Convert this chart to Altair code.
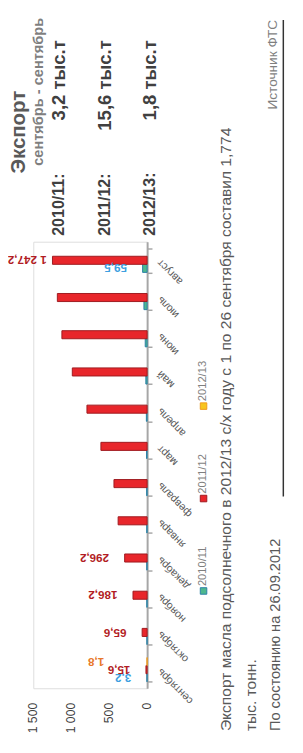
import altair as alt
import pandas as pd

months = ["сентябрь", "октябрь", "ноябрь", "декабрь", "январь", "февраль",
          "март", "апрель", "май", "июнь", "июль", "август"]
seasons = ["2010/11", "2011/12", "2012/13"]
v_2010_11 = [3.2, 3, 4, 5, 5, 6, 8, 10, 17, 25, 42, 59.5]
v_2011_12 = [15.6, 65.6, 186.2, 296.2, 382, 437, 609, 793, 986, 1123, 1183, 1247.2]
v_2012_13 = [1.8, None, None, None, None, None, None, None, None, None, None, None]
lab_2010_11 = ["3,2", "", "", "", "", "", "", "", "", "", "", "59,5"]
lab_2011_12 = ["15,6", "65,6", "186,2", "296,2", "", "", "", "", "", "", "", "1 247,2"]
lab_2012_13 = ["1,8", "", "", "", "", "", "", "", "", "", "", ""]
ticks = [0, 500, 1000, 1500]
tick_labels = ["0", "500", "1 000", "1 500"]

rows = []
for s, vals, labs in zip(seasons, [v_2010_11, v_2011_12, v_2012_13],
                         [lab_2010_11, lab_2011_12, lab_2012_13]):
    for m, v, l in zip(months, vals, labs):
        if v is not None:
            rows.append({"month": m, "season": s, "value": v, "label": l})
df = pd.DataFrame(rows)
tick_df = pd.DataFrame({"value": ticks, "lab": tick_labels})

fills = ["#4db88f", "#e8262b", "#f7c51e"]
strokes = ["#2b7fa8", "#9e1a1f", "#f09a1c"]
label_colors = ["#3d9fe0", "#b21c24", "#e8782a"]

FONT = "Liberation Sans"

y_enc = alt.Y("month:N", sort=months[::-1], title="",
              scale=alt.Scale(paddingInner=0.35, paddingOuter=0.175),
              axis=alt.Axis(orient="right", tickBand="extent", labelAngle=225,
                            labelAlign="right", labelBaseline="middle",
                            labelFontSize=11, labelColor="#595959", labelPadding=7,
                            labelFont=FONT, labelOverlap=False, domainColor="#a6a6a6",
                            domainWidth=2, tickColor="#a6a6a6", tickSize=5, tickWidth=1.5,
                            grid=False))
yoff = alt.YOffset("season:N", sort=seasons[::-1], scale=alt.Scale(paddingInner=0))
x_enc = alt.X("value:Q", title="",
              scale=alt.Scale(domain=[0, 1500], reverse=True, nice=False),
              axis=alt.Axis(values=ticks, labels=False, domainColor="#a6a6a6",
                            domainWidth=1.5, tickColor="#a6a6a6", tickSize=5, tickWidth=1.5,
                            grid=True, gridDash=[8, 5], gridColor="#c8c8c8", gridWidth=1.5))

base = alt.Chart(df)
bars = base.mark_bar(strokeWidth=1).encode(
    x=x_enc, y=y_enc, yOffset=yoff,
    color=alt.Color("season:N", scale=alt.Scale(domain=seasons, range=fills), legend=None),
    stroke=alt.Stroke("season:N", scale=alt.Scale(domain=seasons, range=strokes), legend=None),
)

# value-axis tick labels, placed through the shared x scale
tick_text = alt.Chart(tick_df).mark_text(
    angle=270, align="right", baseline="middle", fontSize=12.5, color="#404040", font=FONT
).encode(x=alt.X("value:Q", axis=None), y=alt.value(474), text="lab:N")

def lab_layer(flt, dx):
    return base.transform_filter(flt).mark_text(
        angle=180, align="left", baseline="middle", dx=dx, fontWeight="bold",
        fontSize=12, font=FONT).encode(
        x=alt.X("value:Q", axis=None), y=alt.Y("month:N", sort=months[::-1]),
        yOffset=alt.YOffset("season:N", sort=seasons[::-1]),
        text="label:N",
        color=alt.Color("season:N", scale=alt.Scale(domain=seasons, range=label_colors), legend=None))

labels_main = lab_layer("datum.label != '' && datum.value < 1000 && datum.season != '2012/13'", 16)
labels_big = lab_layer("datum.label != '' && datum.value >= 1000", 6)
labels_new = lab_layer("datum.label != '' && datum.season == '2012/13'", 44)

def txt(s, x, y, align="left", size=12, color="#595959", weight="normal", font=FONT):
    return alt.Chart(pd.DataFrame({"t": [s]})).mark_text(
        angle=270, align=align, baseline="middle", fontSize=size, color=color,
        fontWeight=weight, font=font).encode(x=alt.value(x), y=alt.value(y), text="t:N")

def sq(x, y, fill, stroke):
    return alt.Chart(pd.DataFrame({"t": [0]})).mark_point(
        shape="square", filled=True, size=45, fill=fill, stroke=stroke, strokeWidth=1,
        opacity=1).encode(x=alt.value(x), y=alt.value(y))

HDR = "#404040"
annot = [
    txt("Экспорт", -15, -70, size=21, color="#595959", weight="bold"),
    txt("сентябрь - сентябрь", 5, -78, size=15, color="#7f7f7f", weight="bold"),
    txt("2010/11:", 27, -6, size=16.5, color=HDR, weight="bold"),
    txt("3,2 тыс.т", 27, -207, align="right", size=19, color=HDR, weight="bold"),
    txt("2011/12:", 74, -6, size=16.5, color=HDR, weight="bold"),
    txt("15,6 тыс.т", 74, -207, align="right", size=19, color=HDR, weight="bold"),
    txt("2012/13:", 120, -6, size=16.5, color=HDR, weight="bold"),
    txt("1,8 тыс.т", 120, -207, align="right", size=19, color=HDR, weight="bold"),
    txt("Экспорт масла подсолнечного в 2012/13 с/х году с 1 по 26 сентября составил 1,774",
        198, 503, size=16, color="#595959"),
    txt("тыс. тонн.", 224, 503, size=16, color="#595959"),
    txt("По состоянию на 26.09.2012", 249, 503, size=15, color="#595959"),
    txt("Источник ФТС", 247, -228, align="right", size=14, color="#7f7f7f"),
    sq(175, 359, fills[0], strokes[0]),
    sq(175, 264, fills[1], strokes[1]),
    sq(175, 169, fills[2], strokes[2]),
    txt("2010/11", 175, 354, size=11.5, color="#7f7f7f"),
    txt("2011/12", 175, 259, size=11.5, color="#7f7f7f"),
    txt("2012/13", 175, 164, size=11.5, color="#7f7f7f"),
    alt.Chart(pd.DataFrame({"t": [0]})).mark_rule(color="#333333", strokeWidth=1.5).encode(
        x=alt.value(257), y=alt.value(-228), y2=alt.value(262)),
]

chart = alt.layer(bars, tick_text, labels_main, labels_big, labels_new, *annot).resolve_scale(
    color="independent").properties(
    width=117, height=459,
    padding={"left": 26, "top": 230, "right": 152, "bottom": 44},
    autosize=alt.AutoSizeParams(type="none"),
).configure_view(strokeWidth=0).configure(font=FONT)

chart.save("out.html", embed_options={"renderer": "svg", "actions": False})
